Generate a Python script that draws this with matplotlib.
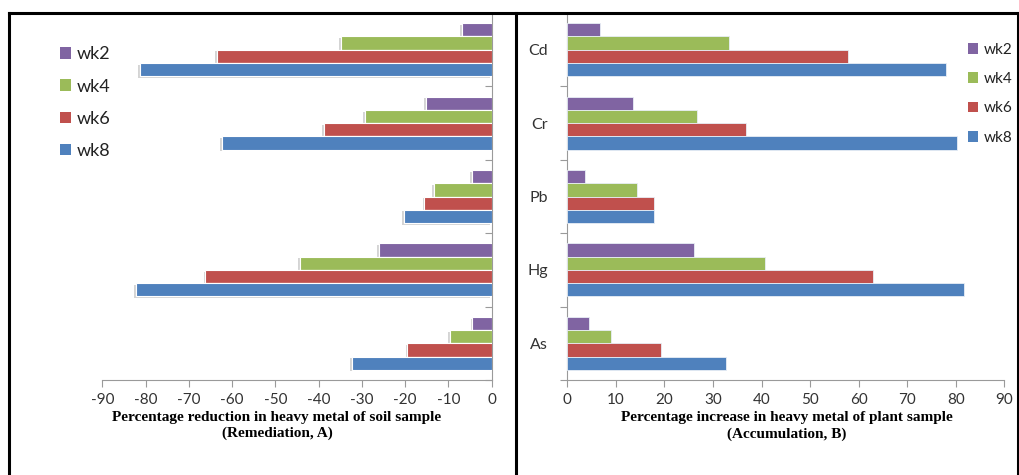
import matplotlib.pyplot as plt
import matplotlib.patheffects as pe
from matplotlib.patches import Patch
from matplotlib.lines import Line2D
import numpy as np

plt.rcParams['axes.unicode_minus'] = False

# Data (categories bottom -> top)
metals = ['As', 'Hg', 'Pb', 'Cr', 'Cd']
weeks = ['wk2', 'wk4', 'wk6', 'wk8']
colors = ['#8064A2', '#9BBB59', '#C0504D', '#4F81BD']

# Remediation (soil), % reduction
soil_wk2 = [-4.5, -26.1, -4.6, -15.2, -6.9]
soil_wk4 = [-9.6, -44.3, -13.3, -29.3, -34.9]
soil_wk6 = [-19.5, -66.2, -15.6, -38.8, -63.6]
soil_wk8 = [-32.4, -82.3, -20.3, -62.3, -81.3]

# Accumulation (plant), % increase
plant_wk2 = [4.5, 26.1, 3.7, 13.5, 6.7]
plant_wk4 = [9.1, 40.8, 14.3, 26.8, 33.4]
plant_wk6 = [19.3, 63.0, 17.8, 36.8, 57.9]
plant_wk8 = [32.7, 81.6, 17.8, 80.2, 77.9]

W, H = 1019, 475
fig = plt.figure(figsize=(W / 100, H / 100), dpi=100)

def px_axes(x0, x1, ytop, ybot):
    return fig.add_axes([x0 / W, 1 - ybot / H, (x1 - x0) / W, (ybot - ytop) / H])

axL = px_axes(102.3, 491.7, 13, 380)
axR = px_axes(567.3, 1004.3, 13, 380)

y = np.arange(len(metals))
h = 0.18
offs = [0.27, 0.09, -0.09, -0.27]
axis_col = '#9a9a9a'
tick_font = 'Lato'

soil = [soil_wk2, soil_wk4, soil_wk6, soil_wk8]
plant = [plant_wk2, plant_wk4, plant_wk6, plant_wk8]

for vals, off, c in zip(soil, offs, colors):
    bars = axL.barh(y + off, vals, height=h, color=c, edgecolor='white', linewidth=0.8, zorder=3)
    for b in bars:
        b.set_path_effects([pe.withSimplePatchShadow(offset=(-1.2, -1.2), shadow_rgbFace='#aaaaaa', alpha=0.5),
                            pe.Normal()])

for vals, off, c in zip(plant, offs, colors):
    axR.barh(y + off, vals, height=h, color=c, edgecolor='#e8eef6', linewidth=0.6, zorder=3)

# Left axes
axL.set_xlim(-90, 0)
axL.set_ylim(-0.5, 4.5)
axL.set_xticks(np.arange(-90, 1, 10))
axL.set_yticks(np.arange(-0.5, 4.6, 1.0))
axL.set_yticklabels([])
axL.yaxis.tick_right()
axL.tick_params(axis='y', direction='in', length=5, color=axis_col, right=True, left=False)
axL.tick_params(axis='x', direction='out', length=5, color=axis_col, labelsize=11,
                labelcolor='#333333', pad=4)
for s in ['top', 'left']:
    axL.spines[s].set_visible(False)
for s in ['right', 'bottom']:
    axL.spines[s].set_color(axis_col)

# Right axes
axR.set_xlim(0, 90)
axR.set_ylim(-0.5, 4.5)
axR.set_xticks(np.arange(0, 91, 10))
axR.set_yticks(np.arange(-0.5, 4.6, 1.0))
axR.set_yticklabels([])
axR.set_yticks(y, minor=True)
axR.set_yticklabels(metals, minor=True)
axR.tick_params(axis='y', which='minor', length=0, labelsize=11.5, labelcolor='#333333', pad=14)
axR.tick_params(axis='y', which='major', direction='out', length=5, color=axis_col)
axR.tick_params(axis='x', direction='out', length=5, color=axis_col, labelsize=11,
                labelcolor='#333333', pad=4)
for s in ['top', 'right']:
    axR.spines[s].set_visible(False)
for s in ['left', 'bottom']:
    axR.spines[s].set_color(axis_col)

for ax in (axL, axR):
    for lab in ax.get_xticklabels() + ax.get_yticklabels(minor=True):
        lab.set_fontfamily(tick_font)

# Axis titles
lab_kw = dict(fontfamily='Liberation Serif', fontweight='bold', fontsize=11, ha='center', va='center')
fig.text(277 / W, 1 - 417 / H, 'Percentage reduction in heavy metal of soil sample', **lab_kw)
fig.text(277 / W, 1 - 433 / H, '(Remediation, A)', **lab_kw)
fig.text(787 / W, 1 - 418 / H, 'Percentage increase in heavy metal of plant sample', **lab_kw)
fig.text(787 / W, 1 - 434 / H, '(Accumulation, B)', **lab_kw)

# Legends
handles = [Patch(facecolor=c, edgecolor='none') for c in colors]
legL = fig.legend(handles, weeks, loc='upper left', bbox_to_anchor=(44 / W, 1 - 30 / H),
                  frameon=False, prop={'family': tick_font, 'size': 13},
                  handlelength=0.6, handleheight=0.6, handletextpad=0.3, labelspacing=0.9)
legR = fig.legend(handles, weeks, loc='upper left', bbox_to_anchor=(954 / W, 1 - 29 / H),
                  frameon=False, prop={'family': tick_font, 'size': 11},
                  handlelength=0.7, handleheight=0.7, handletextpad=0.35, labelspacing=1.0)
for leg in (legL, legR):
    for t in leg.get_texts():
        t.set_color('#222222')

# Frame lines around the two panels
for xs, ys in [((8.5, 1017.5), (12.5, 12.5)), ((8.5, 8.5), (12.5, 475)),
               ((516, 516), (12.5, 475)), ((1017.5, 1017.5), (12.5, 475))]:
    fig.add_artist(Line2D([x / W for x in xs], [1 - v / H for v in ys], color='black', lw=2.2))

fig.savefig('out.png', dpi=100)
